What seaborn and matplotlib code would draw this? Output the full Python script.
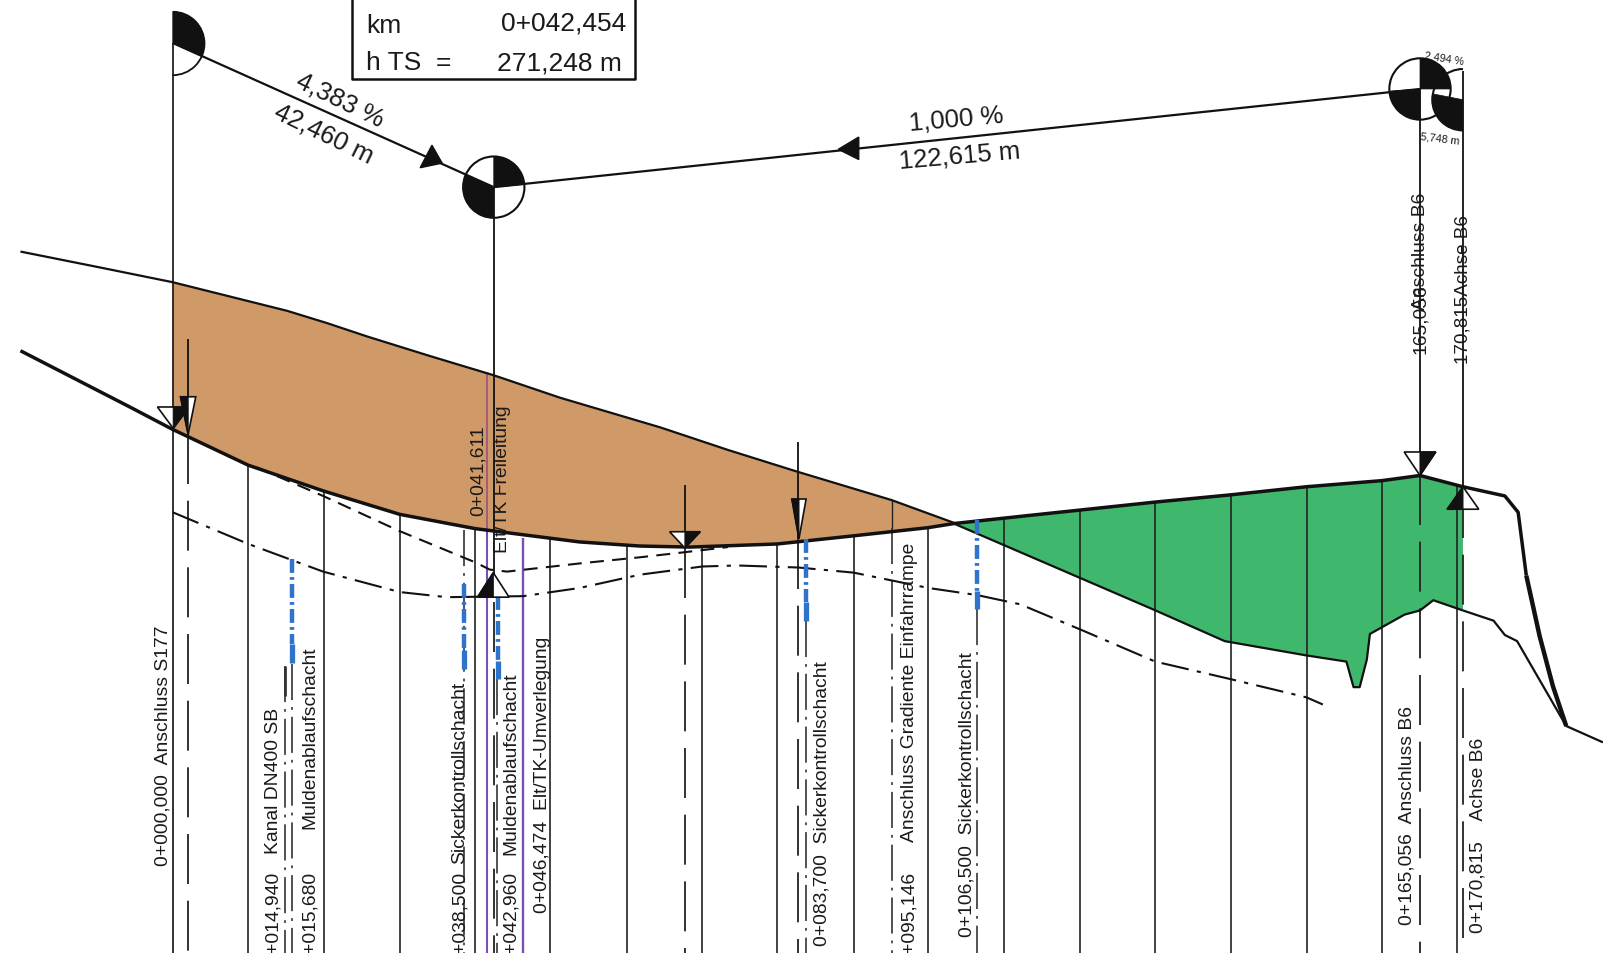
import matplotlib
matplotlib.use("Agg")
import matplotlib.pyplot as plt
from matplotlib.patches import Wedge, Arc
import pandas as pd
import seaborn as sns

# profile lines (x = along the section, y = down the sheet)
terrain_x = [20, 100, 169, 225, 281, 320, 359, 420, 483, 548, 646, 712, 779, 872, 935]
terrain_y = [247, 263, 277, 291, 305, 317, 330, 349, 368, 390, 419, 441, 462, 490, 513]

road_x = [20, 127, 169, 243, 316, 391, 465, 567, 626, 675, 760, 835, 908, 933, 998, 1130, 1203, 1278, 1352, 1389,
          1431, 1472, 1485, 1493, 1506, 1519, 1532]
road_y = [344, 399, 421, 456, 481, 504, 518, 531, 535, 536, 533, 525, 517, 513, 506, 492, 485, 477, 471, 466,
          477, 486, 502, 564, 623, 672, 711]

ground_x = [933, 998, 1128, 1198, 1278, 1317, 1324, 1330, 1337, 1340, 1374, 1389, 1402, 1431]
ground_y = [513, 541, 597, 628, 642, 648, 673, 673, 646, 621, 602, 598, 588, 598]
ground2_x = [1431, 1461, 1472, 1484, 1532, 1568]
ground2_y = [598, 608, 622, 628, 711, 727]

dashdot_x = [169, 243, 316, 391, 437, 512, 567, 626, 687, 721, 781, 835, 908, 956, 998, 1060, 1130, 1203, 1278, 1294]
dashdot_y = [502, 533, 560, 580, 585, 584, 576, 563, 555, 554, 556, 561, 576, 583, 592, 618, 648, 665, 683, 690]
dashed_x = [251, 316, 390, 465, 479, 496, 567, 626, 670, 712]
dashed_y = [458, 486, 520, 551, 558, 560, 552, 546, 541, 536]

grade_x = [169, 483, 1389]
grade_y = [43, 184, 88]

# stations
grid_x = [243, 317, 391, 465, 538, 613, 687, 760, 835, 908, 982, 1056, 1130, 1204, 1278, 1352, 1425]
grid_top = [456, 481, 504, 518, 528, 534, 536, 533, 525, 517, 507, 500, 492, 485, 477, 471, 476]

longdash_x = [184, 483, 670, 781, 1389, 1431]
longdash_top = [425, 590, 537, 528, 466, 478]
chain_x = [279, 286, 454, 486, 788, 873, 956]
chain_top = [652, 650, 519, 665, 608, 517, 597]
blue_x = [286, 454, 487, 788, 956]
blue_top = [548, 572, 584, 528, 510]
blue_bottom = [649, 655, 665, 608, 597]

BROWN = "#CF9A68"
GREEN = "#3FB76C"
BLUE = "#2F74CC"
PURPLE = "#7A4FB5"
PINK = "#A0557F"
INK = "#111111"
FONT = ["Liberation Sans", "DejaVu Sans"]

sns.set_theme(style="white")
plt.rcParams["font.family"] = FONT
plt.rcParams["lines.scale_dashes"] = False

fig = plt.figure(figsize=(16.03, 9.54), dpi=100)
ax = fig.add_axes([0, 0, 1, 1])
ax.set_xlim(0, 1568)
ax.set_ylim(933, 0)
ax.axis("off")

LONG = (0, (36, 12))
CHAIN = (0, (26, 5, 2, 5))


def line(x, y, lw=1.0, color=INK, ls="-", z=3):
    df = pd.DataFrame({"x": x, "y": y})
    sns.lineplot(data=df, x="x", y="y", ax=ax, sort=False, estimator=None, color=color,
                 lw=lw, linestyle=ls, zorder=z, legend=False)
    ax.lines[-1].set_solid_capstyle("butt")


def vtext(x, y, s, size=13.9, color="#1a1a1a"):
    ax.text(x + 2.5, y, s, rotation=90, ha="center", va="bottom", fontsize=size, color=color, zorder=6)


def triangle(x, tip, half, h, side):
    # h < 0: points down on the sheet, flat side above the tip
    base = tip + h
    ax.fill([x - half, x + half, x], [base, base, tip], fc="white", ec=INK, lw=1.2, zorder=5)
    ax.fill([x, x + side * half, x], [base, base, tip], fc=INK, ec=INK, lw=0.8, zorder=5)


# fills
brown_x = terrain_x[2:] + road_x[2:14][::-1]
brown_y = terrain_y[2:] + road_y[2:14][::-1]
ax.fill(brown_x, brown_y, color=BROWN, lw=0, zorder=1)
green_x = road_x[13:21] + ground_x[::-1]
green_y = road_y[13:21] + ground_y[::-1]
ax.fill(green_x, green_y, color=GREEN, lw=0, zorder=1)

# stations
for x, top in zip(grid_x, grid_top):
    line([x, x], [top, 933], lw=1.2, color="#222222", z=2)
line([169, 169], [43, 933], lw=1.3, color="#222222", z=2)
line([873, 873], [490, 517], lw=1.0, color="#222222", z=2)
for x, top in zip(longdash_x, longdash_top):
    line([x, x], [top, 933], lw=1.3, color="#222222", ls=LONG, z=2)
for x, top in zip(chain_x, chain_top):
    line([x, x], [top, 933], lw=1.1, color="#222222", ls=CHAIN, z=2)
for x, top, bottom in zip(blue_x, blue_top, blue_bottom):
    line([x, x], [top, bottom - 18], lw=3.2, color=BLUE, ls=(0, (10, 3, 2, 3)), z=4)
    line([x, x], [bottom - 18, bottom], lw=3.8, color=BLUE, z=4)
line([279, 279], [652, 682], lw=2.0, color="#333333", z=2)

line([476, 476], [367, 520], lw=1.3, color=PINK, z=2)
line([476, 476], [520, 933], lw=1.5, color=PURPLE, z=2)
line([512, 512], [527, 933], lw=1.7, color=PURPLE, z=2)
line([483, 483], [184, 565], lw=1.3, z=2)
line([1389, 1389], [88, 466], lw=1.3, z=2)
line([1431, 1431], [70, 478], lw=1.3, z=2)
line([184, 184], [333, 425], lw=1.3, z=4)
line([670, 670], [475, 537], lw=1.3, z=4)
line([781, 781], [433, 528], lw=1.3, z=4)

# profile
line(terrain_x, terrain_y, lw=1.6)
line(road_x[:24], road_y[:24], lw=2.5)
line(road_x[23:27], road_y[23:27], lw=3.2)
line(ground_x, ground_y, lw=1.6)
line(ground2_x, ground2_y, lw=1.6)
line(dashdot_x, dashdot_y, lw=1.5, ls=(0, (20, 6, 3, 6)))
line(dashed_x, dashed_y, lw=1.5, ls=(0, (10, 6)))
line(grade_x, grade_y, lw=1.6)

# grade arrows
ax.fill([422.5, 411, 432.5], [143, 165, 160.5], color=INK, zorder=4)
ax.fill([840, 840, 820], [135, 157, 147], color=INK, zorder=4)

# surveying discs
for cx, cy, r, t1, t2 in [(169, 43.5, 31, -90, 24), (483, 184, 30, -90, -5), (483, 184, 30, 90, 204),
                          (1389, 88, 30, -90, 0), (1389, 88, 30, 90, 176), (1431, 98.5, 30, 90, 191)]:
    ax.add_patch(Wedge((cx, cy), r, t1, t2, fc=INK, ec=INK, lw=0.5, zorder=4))
ax.add_patch(Arc((169, 43.5), 62, 62, theta1=-90, theta2=90, color=INK, lw=1.3, zorder=5))
ax.add_patch(Arc((483, 184), 60, 60, color=INK, lw=1.5, zorder=5))
ax.add_patch(Arc((1389, 88), 60, 60, color=INK, lw=1.5, zorder=5))
ax.add_patch(Arc((1431, 98.5), 60, 60, theta1=90, theta2=270, color=INK, lw=1.5, zorder=5))

# level marks
triangle(169.5, 420, 15.5, -21, 1)
triangle(184, 426, 7.5, -37, -1)
triangle(670, 537, 15, -16, 1)
triangle(781.5, 528, 7, -39, -1)
triangle(1389, 466, 15.5, -23, 1)
triangle(1431, 477, 15.5, 22, -1)
triangle(482.5, 561, 15.5, 24, -1)

# info box
line([344, 344, 621, 621], [0, 78, 78, 0], lw=1.8)
ax.text(358, 25, "km", fontsize=19, ha="left", va="center", color="#1a1a1a")
ax.text(613, 23, "0+042,454", fontsize=19, ha="right", va="center", color="#1a1a1a")
ax.text(358, 62, "h TS  =", fontsize=19, ha="left", va="center", color="#1a1a1a")
ax.text(608, 62, "271,248 m", fontsize=19, ha="right", va="center", color="#1a1a1a")

# grades
ax.text(333, 98, "4,383 %", fontsize=18.5, rotation=-26, ha="center", va="center", color="#1a1a1a")
ax.text(317, 131, "42,460 m", fontsize=18.5, rotation=-26, ha="center", va="center", color="#1a1a1a")
ax.text(935, 117, "1,000 %", fontsize=18.5, rotation=5, ha="center", va="center", color="#1a1a1a")
ax.text(939, 153, "122,615 m", fontsize=18.5, rotation=5, ha="center", va="center", color="#1a1a1a")
ax.text(1413, 57, "2,494 %", fontsize=7.8, rotation=-9, ha="center", va="center", color="#1a1a1a")
ax.text(1409, 136, "5,748 m", fontsize=7.8, rotation=-7, ha="center", va="center", color="#1a1a1a")

# station labels
vtext(157, 847, "0+000,000  Anschluss S177")
vtext(265, 835, "Kanal DN400 SB")
vtext(265, 932, "+014,940")
vtext(301, 811, "Muldenablaufschacht")
vtext(301, 932, "+015,680")
vtext(447, 845, "Sickerkontrollschacht")
vtext(447, 932, "+038,500")
vtext(465, 505, "0+041,611")
vtext(489, 541, "Elt/TK Freileitung")
vtext(497, 836, "Muldenablaufschacht")
vtext(497, 932, "+042,960")
vtext(528, 893, "0+046,474  Elt/TK-Umverlegung")
vtext(802, 925, "0+083,700  Sickerkontrollschacht")
vtext(887, 823, "Anschluss Gradiente Einfahrrampe")
vtext(887, 932, "+095,146")
vtext(943, 916, "0+106,500  Sickerkontrollschacht")
vtext(1374, 905, "0+165,056  Anschluss B6")
vtext(1443, 912, "0+170,815    Achse B6")
vtext(1386.5, 346, "165,056")
vtext(1386.5, 303, "Anschluss B6")
vtext(1428.5, 356, "170,815Achse B6", size=13.6)

fig.savefig("out.png", dpi=100)
